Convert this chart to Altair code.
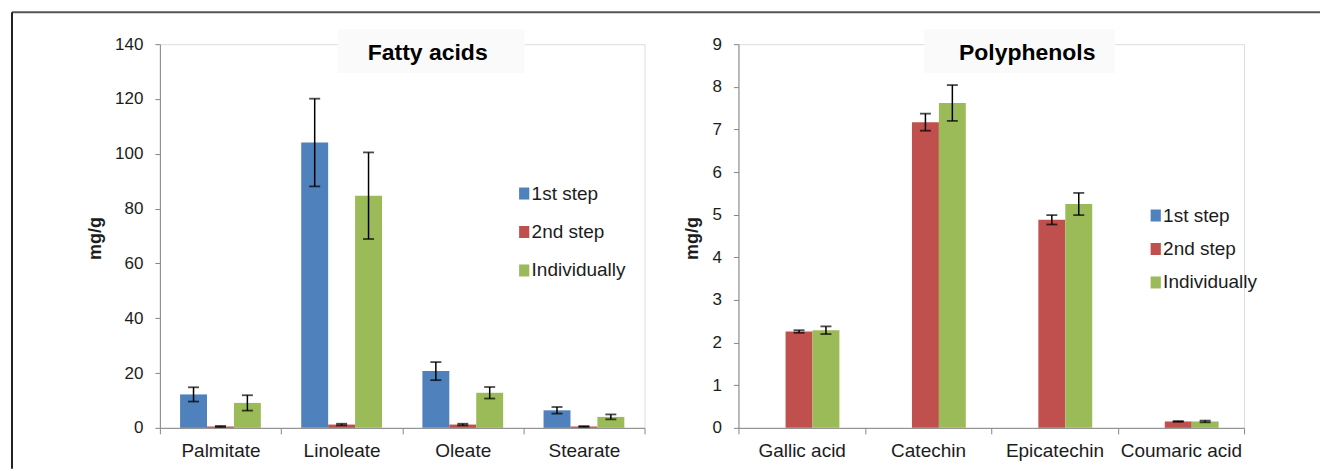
import altair as alt
import pandas as pd

# Extraction series shared by both panels
SERIES = ["1st step", "2nd step", "Individually"]
SERIES_COLORS = ["#4F81BD", "#C0504D", "#9BBB59"]

# Fatty acids (mg/g) with standard deviations
fatty_acids = ["Palmitate", "Linoleate", "Oleate", "Stearate"]
fa_step1 = [12.2, 104.1, 20.7, 6.4]
fa_step1_err = [2.6, 16.0, 3.3, 1.2]
fa_step2 = [0.5, 1.2, 1.2, 0.5]
fa_step2_err = [0.2, 0.3, 0.3, 0.15]
fa_indiv = [9.1, 84.7, 12.8, 4.0]
fa_indiv_err = [2.8, 15.8, 2.1, 0.9]

# Polyphenols (mg/g) with standard deviations
polyphenols = ["Gallic acid", "Catechin", "Epicatechin", "Coumaric acid"]
pp_step1 = [0.0, 0.0, 0.0, 0.0]
pp_step1_err = [0.0, 0.0, 0.0, 0.0]
pp_step2 = [2.26, 7.17, 4.88, 0.15]
pp_step2_err = [0.03, 0.2, 0.11, 0.01]
pp_indiv = [2.29, 7.62, 5.25, 0.15]
pp_indiv_err = [0.09, 0.42, 0.26, 0.02]

FONT = "Liberation Sans"
TEXT = "#1c1c1c"
AXIS = "#868686"
# tall rectangle swatch, in Vega's [-1, 1] symbol space, nudged right
RECT_PATH = "M-0.5,-1H1.2V1H-0.5Z"


def long_table(categories, series_values):
    rows = []
    for name, (vals, errs) in zip(SERIES, series_values):
        for cat, v, e in zip(categories, vals, errs):
            rows.append({"compound": cat, "series": name, "value": v,
                         "err": e, "lo": v - e, "hi": v + e})
    return pd.DataFrame(rows)


def panel(categories, df, y_max, y_step, width, title, title_x, box,
          legend_xy, row_pad, ytitle_x, frame=False):
    height = 384
    x = alt.X("compound:N", sort=categories, title=None,
              scale=alt.Scale(paddingInner=0, paddingOuter=0),
              axis=alt.Axis(labelAngle=0, tickBand="extent", tickSize=6,
                            tickColor=AXIS, domainColor=AXIS,
                            labelFontSize=19, labelFont=FONT,
                            labelColor=TEXT, labelPadding=8))
    y_vals = [round(i * y_step, 6) for i in range(int(round(y_max / y_step)) + 1)]
    y = alt.Y("value:Q", scale=alt.Scale(domain=[0, y_max], nice=False),
              axis=alt.Axis(values=y_vals, grid=False, tickSize=5,
                            tickColor=AXIS, domainColor=AXIS,
                            labelFontSize=17, labelFont=FONT,
                            labelColor=TEXT, labelPadding=12,
                            title="mg/g", titleFont=FONT,
                            titleFontSize=18, titleFontWeight="bold",
                            titleColor=TEXT, titleAngle=270,
                            titleX=ytitle_x, titleY=194,
                            titleAlign="center", titleBaseline="middle"))
    x_off = alt.XOffset("series:N", sort=SERIES,
                        scale=alt.Scale(domain=SERIES, paddingOuter=0.75,
                                        paddingInner=0))
    base = alt.Chart(df)
    bars = base.mark_bar().encode(
        x=x, xOffset=x_off, y=y,
        color=alt.Color("series:N",
                        scale=alt.Scale(domain=SERIES, range=SERIES_COLORS),
                        legend=alt.Legend(title=None, orient="none",
                                          legendX=legend_xy[0],
                                          legendY=legend_xy[1],
                                          symbolType=RECT_PATH,
                                          symbolSize=144,
                                          symbolStrokeWidth=0,
                                          labelFontSize=19, labelFont=FONT,
                                          labelColor=TEXT, labelOffset=0,
                                          rowPadding=row_pad)),
    )
    err_df = base.transform_filter("datum.err > 0")
    whisker = err_df.mark_rule(color="black", strokeWidth=1.5).encode(
        x=x, xOffset=x_off,
        y=alt.Y("lo:Q"), y2="hi:Q")
    cap_lo = err_df.mark_tick(color="black", size=11, thickness=1.8).encode(
        x=x, xOffset=x_off, y=alt.Y("lo:Q"))
    cap_hi = err_df.mark_tick(color="black", size=11, thickness=1.8).encode(
        x=x, xOffset=x_off, y=alt.Y("hi:Q"))

    one = alt.Chart(pd.DataFrame({"k": [0]}))
    title_box = one.mark_rect(color="#fafafa").encode(
        x=alt.value(box[0]), x2=alt.value(box[1]),
        y=alt.value(-15), y2=alt.value(29))
    title_text = one.mark_text(font=FONT, fontSize=23, fontWeight="bold",
                               color="black").encode(
        x=alt.value(title_x), y=alt.value(9), text=alt.value(title))

    layers = [title_box, title_text, bars, whisker, cap_lo, cap_hi]
    if frame:
        top_line = one.mark_rule(color="#555555", strokeWidth=2).encode(
            x=alt.value(-148), x2=alt.value(1161), y=alt.value(-32))
        left_line = one.mark_rule(color="#222222", strokeWidth=2).encode(
            x=alt.value(-148), y=alt.value(-32), y2=alt.value(425))
        layers += [top_line, left_line]
    return alt.layer(*layers).properties(width=width, height=height)


fa_df = long_table(fatty_acids, [(fa_step1, fa_step1_err),
                                 (fa_step2, fa_step2_err),
                                 (fa_indiv, fa_indiv_err)])
pp_df = long_table(polyphenols, [(pp_step1, pp_step1_err),
                                 (pp_step2, pp_step2_err),
                                 (pp_indiv, pp_indiv_err)])

left = panel(fatty_acids, fa_df, 140, 20, 485, "Fatty acids", 268,
             (178, 365), (353, 140), 18.5, -64, frame=True)
right = panel(polyphenols, pp_df, 9, 1, 506, "Polyphenols", 289,
              (186, 377), (406, 162), 13.5, -46)

chart = alt.hconcat(left, right, spacing=94, bounds="flush").resolve_scale(
    color="independent", x="independent", y="independent"
).resolve_legend(color="independent").properties(
    padding={"left": 10, "top": 10, "right": 0, "bottom": 0}
).configure_view(strokeWidth=0).configure(background="white")

chart.save("out.html", embed_options={"renderer": "svg", "actions": False})
